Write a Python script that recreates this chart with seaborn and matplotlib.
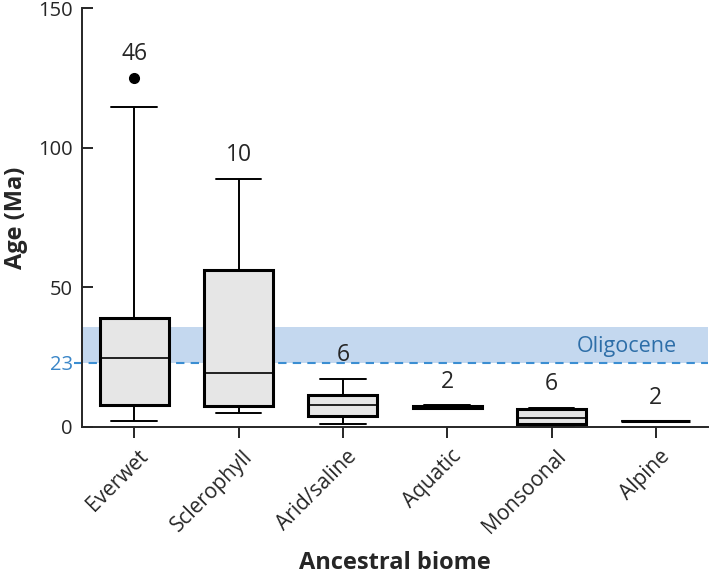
import matplotlib
matplotlib.use("Agg")
import matplotlib.pyplot as plt
import matplotlib.transforms as mtransforms
import seaborn as sns
import pandas as pd

# ---- data ----
biomes = ["Everwet", "Sclerophyll", "Arid/saline", "Aquatic", "Monsoonal", "Alpine"]

everwet = [2.1, 2.8, 3.5, 4.0, 4.6, 5.2, 5.8, 6.3, 6.8, 7.2, 7.6, 7.8, 8.2, 9.5,
           11.0, 12.5, 14.0, 15.8, 17.5, 19.3, 21.0, 22.8, 24.2, 25.2, 26.0, 27.1,
           28.3, 29.5, 30.6, 32.0, 33.4, 35.0, 36.6, 38.8, 39.0, 42.5, 46.0, 50.2,
           55.0, 61.5, 68.0, 75.5, 84.0, 96.0, 114.6, 125.0]
sclerophyll = [5.0, 6.4, 7.0, 9.0, 16.0, 22.6, 45.0, 60.0, 72.0, 88.8]
arid_saline = [1.2, 3.4, 5.8, 10.0, 11.8, 17.2]
aquatic = [6.3, 7.7]
monsoonal = [0.3, 0.9, 1.3, 5.1, 6.8, 6.9]
alpine = [2.1, 2.1]

series = [everwet, sclerophyll, arid_saline, aquatic, monsoonal, alpine]

oligocene_low = 23
oligocene_high = 35.9
ytick_values = [0, 23, 50, 100, 150]
ytick_labels = ["0", "23", "50", "100", "150"]

# ---- build table ----
rows = []
for b, vals in zip(biomes, series):
    for v in vals:
        rows.append({"biome": b, "age": v})
df = pd.DataFrame(rows)

sns.set_style("ticks")
plt.rcParams["font.family"] = ["Open Sans", "DejaVu Sans"]

fig = plt.figure(figsize=(7.09, 5.74), dpi=100)
ax = fig.add_axes([82 / 709, 1 - 427 / 574, (708 - 82) / 709, (427 - 8) / 574])
blend = mtransforms.blended_transform_factory(ax.transAxes, ax.transData)

# Oligocene band and 23 Ma line
ax.axhspan(oligocene_low, oligocene_high, color="#c4d8ef", zorder=0, lw=0)
ax.plot([-0.012, 1], [oligocene_low, oligocene_low], transform=blend,
        color="#3b8ed2", ls=(0, (4, 3)), lw=1.5, clip_on=False, zorder=1)
ax.text(0.951, 28.9, "Oligocene", transform=blend,
        ha="right", va="center", fontsize=15.5, color="#2d6ea8")

sns.boxplot(data=df, x="biome", y="age", order=biomes, ax=ax,
            color="#e6e6e6", linecolor="black", width=0.66, whis=2.6,
            fliersize=7, capwidths=0.44,
            boxprops=dict(linewidth=2.2),
            whiskerprops=dict(linewidth=1.4),
            capprops=dict(linewidth=1.4),
            medianprops=dict(linewidth=1.2),
            flierprops=dict(marker="o", markerfacecolor="black",
                            markeredgecolor="black"))

# counts
for i, vals in enumerate(series):
    ax.annotate(str(len(vals)), xy=(i, max(vals)), xytext=(0, 17),
                textcoords="offset points", ha="center", va="center",
                fontsize=16.5)

ax.set_ylim(0, 150)
ax.set_xlim(-0.5, 5.5)
ax.set_yticks(ytick_values)
ax.set_yticklabels(ytick_labels)
ax.tick_params(axis="y", direction="in", length=8, width=1.4, pad=6.5, labelsize=14.5)
ax.tick_params(axis="x", direction="out", length=8, width=1.4, pad=11, labelsize=15)
t23 = ax.yaxis.get_major_ticks()[1]
t23.tick1line.set_visible(False)
t23.label1.set_color("#3a86c8")

shift = mtransforms.ScaledTranslation(11 / 100, 0, fig.dpi_scale_trans)
for lab in ax.get_xticklabels():
    lab.set_rotation(45)
    lab.set_ha("right")
    lab.set_va("center")
    lab.set_rotation_mode("anchor")
    lab.set_transform(lab.get_transform() + shift)

for s in ["top", "right"]:
    ax.spines[s].set_visible(False)
ax.spines["left"].set_linewidth(1.4)
ax.spines["bottom"].set_linewidth(1.4)

ax.set_ylabel("Age (Ma)", fontsize=17, fontweight="bold")
ax.yaxis.set_label_coords((16 - 82) / 626, 0.5)
ax.yaxis.label.set_va("center")
ax.set_xlabel("Ancestral biome", fontsize=17, fontweight="bold")
ax.xaxis.set_label_coords(0.5, (427 - 569) / 419)
ax.xaxis.label.set_va("baseline")

fig.savefig("out.png", dpi=100)
